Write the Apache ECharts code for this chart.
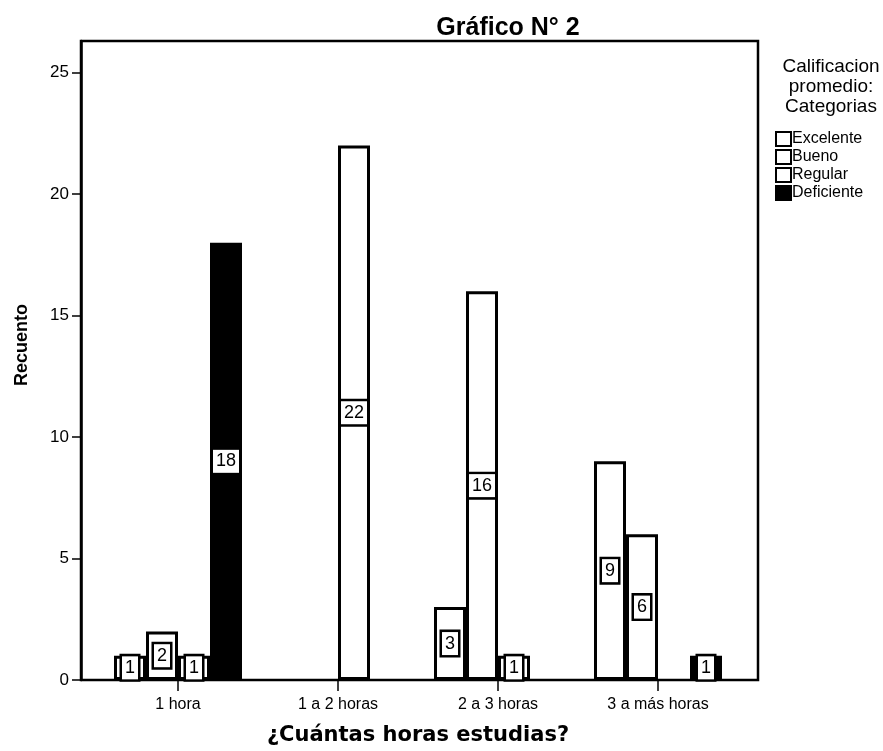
<!DOCTYPE html>
<html>
<head>
<meta charset="utf-8">
<script src="https://cdn.jsdelivr.net/npm/echarts@6/dist/echarts.min.js"></script>
<style>html,body{margin:0;padding:0;background:#fff}#c{width:883px;height:751px}</style>
</head>
<body>
<div id="c"></div>
<script>
const categories = ['1 hora', '1 a 2 horas', '2 a 3 horas', '3 a más horas'];
const seriesNames = ['Excelente', 'Bueno', 'Regular', 'Deficiente'];
const excelente = [1, null, 3, 9];
const bueno = [2, null, 16, 6];
const regular = [1, 22, 1, null];
const deficiente = [18, null, null, 1];
const yTicks = [0, 5, 10, 15, 20, 25];
const yMax = 26.3;

const values = [excelente, bueno, regular, deficiente];
const fills = ['#ffffff', '#ffffff', '#ffffff', '#000000'];
const font = 'Liberation Sans, Arial, sans-serif';

const chart = echarts.init(document.getElementById('c'), null, {renderer: 'canvas'});

const series = seriesNames.map((name, i) => ({
  name: name,
  type: 'bar',
  xAxisIndex: 1,
  yAxisIndex: 1,
  barWidth: 32,
  barGap: '0%',
  data: values[i],
  itemStyle: {color: fills[i], borderColor: '#000', borderWidth: 3},
  label: {
    show: true,
    position: 'inside',
    color: '#000',
    fontFamily: font,
    fontSize: 18,
    backgroundColor: '#fff',
    borderColor: '#000',
    borderWidth: 2.5,
    padding: [3, 3, 2, 3]
  },
  emphasis: {disabled: true},
  animation: false
}));

chart.setOption({
  animation: false,
  backgroundColor: '#fff',
  title: [
    {text: 'Gráfico N° 2', left: 503, top: 11, textAlign: 'center',
     textStyle: {fontFamily: font, fontSize: 25, fontWeight: 'bold', color: '#000'}},
    {text: 'Calificacion\npromedio:\nCategorias', left: 826, top: 52, textAlign: 'center',
     textStyle: {fontFamily: font, fontSize: 19, fontWeight: 'normal', color: '#000', lineHeight: 20}}
  ],
  legend: {
    orient: 'vertical',
    left: 775,
    top: 131,
    padding: 0,
    itemWidth: 15,
    itemHeight: 14,
    itemGap: 2,
    icon: 'rect',
    data: seriesNames,
    itemStyle: {borderColor: '#000', borderWidth: 2},
    textStyle: {fontFamily: font, fontSize: 16, color: '#000', padding: [0, 0, 0, -4]}
  },
  grid: [
    {left: 81, right: 125, top: 41, bottom: 71, show: true, borderColor: '#000', borderWidth: 2.5, backgroundColor: 'transparent'},
    {left: 98, width: 640, top: 41, bottom: 71}
  ],
  xAxis: [
    {type: 'category', gridIndex: 0, data: categories, show: false},
    {type: 'category', gridIndex: 1, data: categories,
     axisLine: {show: false},
     axisTick: {show: true, alignWithLabel: true, length: 11, lineStyle: {color: '#000', width: 1.5}},
     axisLabel: {fontFamily: font, fontSize: 16, color: '#000', margin: 17},
     name: '¿Cuántas horas estudias?', nameLocation: 'middle', nameGap: 45,
     nameTextStyle: {fontFamily: 'DejaVu Sans, sans-serif', fontSize: 21, fontWeight: 'bold', color: '#000'}}
  ],
  yAxis: [
    {type: 'value', gridIndex: 0, min: 0, max: yMax,
     splitLine: {show: false},
     axisLine: {show: true, lineStyle: {color: '#000', width: 2.5}},
     axisTick: {show: true, length: 9, customValues: yTicks, lineStyle: {color: '#000', width: 1.5}},
     axisLabel: {customValues: yTicks, fontFamily: font, fontSize: 17, color: '#000', margin: 12,
       formatter: v => (yTicks.indexOf(v) >= 0 ? String(v) : '')}},
    {type: 'value', gridIndex: 1, min: 0, max: yMax, show: false, splitLine: {show: false}}
  ],
  graphic: [
    {type: 'text', x: 22, y: 345, rotation: Math.PI / 2,
     style: {text: 'Recuento', fontFamily: font, fontSize: 18, fontWeight: 'bold', fill: '#000', align: 'center', verticalAlign: 'middle'}}
  ],
  series: series
});
</script>
</body>
</html>
